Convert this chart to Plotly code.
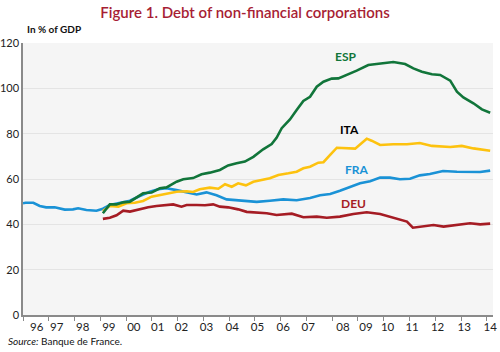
import plotly.graph_objects as go

# ---- data (decimal years, % of GDP) ----
fra_x = [1996.0, 1996.1, 1996.4, 1996.65, 1996.9, 1997.23, 1997.62, 1997.94, 1998.14, 1998.46, 1998.85,
         1999.1, 1999.37, 1999.76, 2000.15, 2000.53, 2000.92, 2001.24, 2001.57, 2001.96, 2002.35,
         2002.74, 2003.12, 2003.51, 2003.9, 2004.29, 2004.8, 2005.07, 2005.58, 2006.1, 2006.62,
         2007.14, 2007.53, 2007.92, 2008.3, 2008.69, 2009.08, 2009.47, 2009.86, 2010.24, 2010.63,
         2011.02, 2011.4, 2011.79, 2012.3, 2012.84, 2013.35, 2013.74, 2014.13]
fra_y = [49.3, 49.5, 49.5, 48.1, 47.5, 47.5, 46.5, 46.6, 47.1, 46.3, 46.0,
         46.9, 48.5, 49.3, 50.4, 52.5, 54.4, 55.5, 55.9, 55.1, 54.1,
         53.2, 54.1, 52.8, 51.0, 50.7, 50.3, 49.9, 50.4, 51.0, 50.6,
         51.6, 52.8, 53.4, 54.8, 56.3, 58.1, 59.0, 60.6, 60.6, 59.9,
         60.1, 61.6, 62.2, 63.5, 63.2, 63.0, 63.1, 63.7]

esp_x = [1999.1, 1999.37, 1999.63, 1999.89, 2000.15, 2000.4, 2000.66, 2000.99, 2001.31, 2001.57,
         2001.96, 2002.22, 2002.6, 2002.93, 2003.25, 2003.64, 2003.96, 2004.29, 2004.61, 2004.94,
         2005.32, 2005.65, 2005.84, 2006.04, 2006.36, 2006.62, 2006.88, 2007.14, 2007.4, 2007.66,
         2007.98, 2008.24, 2008.56, 2008.95, 2009.4, 2009.86, 2010.37, 2010.83, 2011.15, 2011.48,
         2011.87, 2012.19, 2012.58, 2012.84, 2013.09, 2013.48, 2013.81, 2014.13]
esp_y = [44.9, 48.8, 48.8, 49.7, 50.0, 51.8, 53.7, 54.0, 55.9, 56.3,
         58.8, 59.9, 60.4, 62.1, 62.8, 64.0, 66.0, 66.9, 67.7, 69.8,
         73.1, 75.4, 78.2, 82.4, 86.3, 90.4, 94.4, 96.3, 100.7, 102.9,
         104.3, 104.4, 105.9, 107.8, 110.3, 111.0, 111.6, 110.7, 108.8, 107.3,
         106.2, 105.9, 103.4, 98.5, 96.0, 93.4, 90.7, 89.2]

ita_x = [1999.1, 1999.37, 1999.7, 2000.02, 2000.34, 2000.66, 2000.99, 2001.31, 2001.63, 2001.96,
         2002.35, 2002.6, 2002.86, 2003.25, 2003.58, 2003.84, 2004.1, 2004.35, 2004.65, 2004.94,
         2005.58, 2005.91, 2006.3, 2006.62, 2006.88, 2007.14, 2007.46, 2007.66, 2007.92, 2008.18,
         2008.89, 2009.34, 2009.53, 2009.86, 2010.37, 2010.9, 2011.4, 2011.87, 2012.58, 2013.03,
         2013.48, 2014.13]
ita_y = [45.9, 48.1, 47.8, 49.3, 49.5, 50.3, 52.2, 52.9, 53.4, 54.4,
         54.6, 54.3, 55.5, 56.2, 55.7, 57.7, 56.6, 58.1, 57.2, 58.8,
         60.3, 61.8, 62.5, 63.2, 64.7, 65.4, 67.2, 67.4, 70.6, 73.8,
         73.4, 77.8, 76.9, 75.0, 75.3, 75.3, 75.9, 74.6, 74.1, 74.6,
         73.5, 72.5]

deu_x = [1999.1, 1999.37, 1999.63, 1999.89, 2000.15, 2000.53, 2000.86, 2001.18, 2001.57, 2001.83,
         2002.15, 2002.35, 2002.74, 2003.06, 2003.38, 2003.64, 2003.96, 2004.35, 2004.68, 2005.07,
         2005.46, 2005.84, 2006.43, 2006.88, 2007.4, 2007.79, 2008.3, 2008.82, 2009.34, 2009.86,
         2010.24, 2010.63, 2010.9, 2011.13, 2011.54, 2011.93, 2012.32, 2012.84, 2013.35, 2013.74,
         2014.13]
deu_y = [42.4, 42.9, 44.0, 46.0, 45.6, 46.8, 47.5, 48.1, 48.5, 48.8,
         47.8, 48.5, 48.5, 48.4, 48.8, 47.8, 47.5, 46.6, 45.5, 45.3,
         44.9, 44.1, 44.7, 43.1, 43.4, 42.9, 43.4, 44.6, 45.3, 44.6,
         43.4, 41.9, 41.2, 38.5, 39.0, 39.7, 39.0, 39.7, 40.5, 40.0,
         40.3]

tick_labels = ["96", "97", "98", "99", "00", "01", "02", "03", "04", "05",
               "06", "07", "08", "09", "10", "11", "12", "13", "14"]
year_bounds = list(range(1996, 2015))
y_ticks = [0, 20, 40, 60, 80, 100, 120]

# ---- styles ----
C_ESP = "#11753a"
C_ITA = "#fdc20f"
C_FRA = "#1a92d6"
C_DEU = "#a51c24"
C_TITLE = "#a71e34"
FONT = "Lato"

# label position offsets (layout only)
label_offsets = [0.53, 0.31, 0.32, 0.33, 0.30, 0.23, 0.15, 0.12, 0.12, 0.10,
                 0.10, 0.07, 0.42, 0.31, 0.15, 0.10, 0.09, 0.12, 0.13]
label_pos = [y + o for y, o in zip(year_bounds, label_offsets)]

fig = go.Figure()
for name, xs, ys, col in [("FRA", fra_x, fra_y, C_FRA), ("DEU", deu_x, deu_y, C_DEU),
                          ("ITA", ita_x, ita_y, C_ITA), ("ESP", esp_x, esp_y, C_ESP)]:
    fig.add_trace(go.Scatter(x=xs, y=ys, mode="lines", name=name,
                             line=dict(color=col, width=2.6), showlegend=False,
                             hoverinfo="skip"))

labels = [("ESP", 2008.5, 114, C_ESP), ("ITA", 2008.69, 82, "#000000"),
          ("FRA", 2008.95, 64, C_FRA), ("DEU", 2008.82, 49.3, C_DEU)]
for txt, lx, ly, col in labels:
    fig.add_annotation(x=lx, y=ly, text="<b>%s</b>" % txt, showarrow=False,
                       font=dict(family=FONT, size=12, color=col))

fig.update_layout(
    width=500, height=352,
    margin=dict(l=23, r=7, t=43, b=37, autoexpand=False),
    paper_bgcolor="white", plot_bgcolor="#f5f5f5",
    title=dict(text="Figure 1. Debt of non-financial corporations",
               x=0.49, xanchor="center", y=0.965, yanchor="middle",
               font=dict(family=FONT, size=15, color=C_TITLE, weight=600)),
    font=dict(family=FONT, size=11, color="#222222"),
)
fig.update_xaxes(range=[1996, 2014.24], tickmode="array", tickvals=label_pos,
                 ticktext=tick_labels, ticks="", showgrid=False, zeroline=False,
                 automargin=False,
                 showline=True, linecolor="#8a8a8a", linewidth=1.5,
                 tickfont=dict(family=FONT, size=11.5, color="#222222"),
                 minor=dict(tickmode="array", tickvals=year_bounds, ticks="outside",
                            ticklen=4, tickcolor="#8a8a8a", tickwidth=1, showgrid=False))
fig.update_yaxes(range=[0, 120], tickmode="array", tickvals=y_ticks,
                 showgrid=True, gridcolor="#e4e4e4", gridwidth=1, zeroline=False,
                 automargin=False,
                 showline=True, linecolor="#8a8a8a", linewidth=1.5,
                 ticks="", ticklabelstandoff=0,
                 tickfont=dict(family=FONT, size=11, color="#222222"))

fig.add_annotation(xref="paper", yref="paper", x=0.004, y=1.0, xanchor="left", yanchor="bottom",
                   yshift=6, text="<b>In % of GDP</b>", showarrow=False,
                   font=dict(family=FONT, size=10, color="#111111"))
fig.add_annotation(xref="paper", yref="paper", x=-0.037, y=0, xanchor="left", yanchor="top",
                   yshift=-18, text="<i>Source:</i> Banque de France.", showarrow=False,
                   font=dict(family=FONT, size=10, color="#111111"))

fig.write_html("out.html")
